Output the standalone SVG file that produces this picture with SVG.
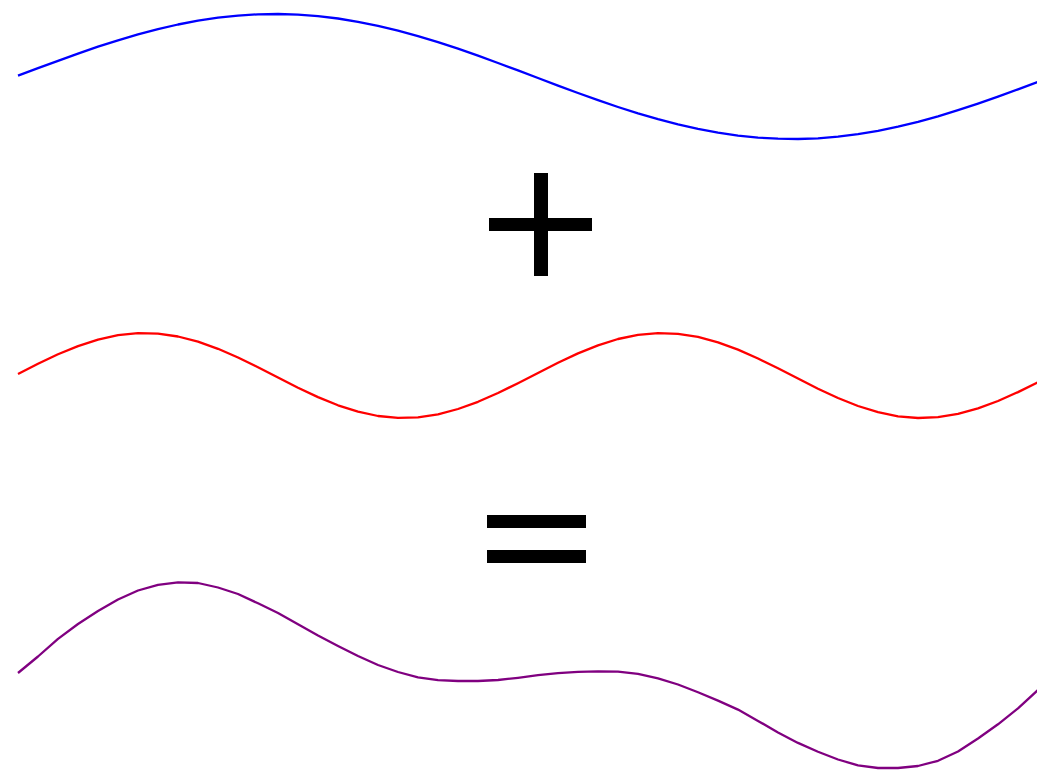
<svg xmlns="http://www.w3.org/2000/svg" width="1037" height="770" viewBox="0 0 1037 770">
<style>
.wave{fill:none;stroke-width:2.3;stroke-linejoin:round;stroke-linecap:butt}
.sym{fill:#000}
</style>
<rect width="1037" height="770" fill="#fff"/>
<g id="wave-blue">
<polyline class="wave" stroke="#0000ff" points="18,75.7 38,68.2 58,60.8 78,53.6 98,46.7 118,40.3 138,34.4 158,29.1 178,24.5 198,20.7 218,17.7 238,15.6 258,14.3 278,14 298,14.6 318,16.1 338,18.5 358,21.8 378,25.8 398,30.6 418,36.1 438,42.1 458,48.7 478,55.7 498,63 518,70.4 538,78 558,85.6 578,93 598,100.2 618,107 638,113.4 658,119.2 678,124.4 698,128.9 718,132.7 738,135.6 758,137.6 778,138.7 798,139 818,138.3 838,136.7 858,134.2 878,130.9 898,126.7 918,121.9 938,116.4 958,110.2 978,103.6 998,96.6 1018,89.3 1038,81.8"/>
</g>
<g id="plus">
<rect class="sym" x="534" y="173" width="14" height="103"/>
<rect class="sym" x="489" y="218" width="103" height="13"/>
</g>
<g id="wave-red">
<polyline class="wave" stroke="#ff0000" points="18,374 38,363.8 58,354.3 78,346.1 98,339.6 118,335.2 138,333.1 158,333.6 178,336.5 198,341.6 218,348.8 238,357.5 258,367.3 278,377.6 298,387.7 318,397.1 338,405.3 358,411.7 378,416 398,417.9 418,417.4 438,414.3 458,409 478,401.8 498,393 518,383.2 538,372.9 558,362.8 578,353.4 598,345.4 618,339 638,334.9 658,333.1 678,333.8 698,336.9 718,342.3 738,349.6 758,358.5 778,368.3 798,378.6 818,388.7 838,398 858,406 878,412.2 898,416.3 918,418 938,417.2 958,413.9 978,408.4 998,401 1018,392.1 1038,382.2"/>
</g>
<g id="equals">
<rect class="sym" x="487" y="515" width="99" height="13"/>
<rect class="sym" x="487" y="550" width="99" height="13"/>
</g>
<g id="wave-purple">
<polyline class="wave" stroke="#800080" points="18,673 38,656.5 58,638.8 78,624 98,611 118,599.5 138,590.5 158,584.8 178,582.3 198,583 218,587.5 238,594 258,603.3 278,613 298,624.3 318,635.5 338,646 358,656 378,665 398,672 418,677.3 438,680.2 458,681 478,681 498,680 518,677.8 538,675.2 558,673.2 578,671.8 598,671.3 618,671.6 638,673.9 658,678.3 678,684.5 698,692.3 718,700.6 738,709.6 758,720.9 778,732.4 798,742.9 818,751.7 838,759.5 858,765.3 878,768 898,768 918,766 938,760.8 958,751.5 978,738.5 998,724.3 1018,708.3 1038,690"/>
</g>
</svg>
